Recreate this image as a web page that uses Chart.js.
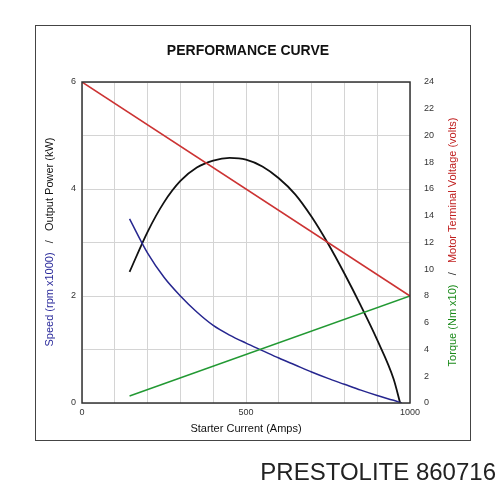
<!DOCTYPE html>
<html><head>
<script src="https://cdn.jsdelivr.net/npm/chart.js@4"></script>
<style>
body{margin:0;background:#fff;}
#wrap{position:relative;width:500px;height:500px;}
#brand{position:absolute;left:0;width:496px;text-align:right;top:458px;font:24px "Liberation Sans",Arial,sans-serif;color:#222;}
</style>
</head><body>
<div id="wrap"><canvas id="c" width="500" height="500"></canvas><div id="brand">PRESTOLITE 860716</div></div>
<script>
// amps vs values
const powerAmps = [145, 200, 250, 300, 350, 400, 450, 500, 550, 600, 650, 700, 750, 800, 850, 900, 950, 970];
const powerKw = [2.45, 3.2, 3.75, 4.15, 4.4, 4.53, 4.58, 4.55, 4.42, 4.2, 3.9, 3.48, 2.98, 2.42, 1.82, 1.18, 0.45, 0];
const speedAmps = [145, 200, 250, 300, 350, 400, 450, 500, 550, 600, 650, 700, 750, 800, 850, 900, 950, 975];
const speedRpm = [3.44, 2.8, 2.35, 2.0, 1.7, 1.45, 1.27, 1.12, 0.98, 0.84, 0.71, 0.58, 0.46, 0.35, 0.24, 0.14, 0.05, 0];
const torqueAmps = [145, 1000];
const torqueNm = [0.52, 8];
const voltAmps = [0, 1000];
const volts = [24, 8];

const pts = (xs, ys) => xs.map((x, i) => ({x: x, y: ys[i]}));
const FONT = '"Liberation Sans", Arial, sans-serif';

const decor = {
    id: 'decor',
    beforeDraw(chart) {
        const c = chart.ctx;
        c.save();
        c.strokeStyle = '#444';
        c.lineWidth = 1;
        c.strokeRect(35.5, 25.5, 435, 415);
        c.fillStyle = '#111';
        c.font = 'bold 14px ' + FONT;
        c.textAlign = 'center';
        c.fillText('PERFORMANCE CURVE', 248, 55);
        c.restore();
    },
    afterDraw(chart) {
        const c = chart.ctx, a = chart.chartArea;
        c.save();
        c.strokeStyle = '#333';
        c.lineWidth = 1.5;
        c.strokeRect(a.left, a.top, a.right - a.left, a.bottom - a.top);
        c.font = '11px ' + FONT;
        c.fillStyle = '#111';
        c.textAlign = 'center';
        c.fillText('Starter Current (Amps)', (a.left + a.right) / 2, 432);
        const multi = (x, y, parts) => {
            c.save();
            c.translate(x, y);
            c.rotate(-Math.PI / 2);
            let total = parts.reduce((s, p) => s + c.measureText(p[0]).width, 0);
            let pos = -total / 2;
            c.textAlign = 'left';
            parts.forEach(p => {
                c.fillStyle = p[1];
                c.fillText(p[0], pos, 0);
                pos += c.measureText(p[0]).width;
            });
            c.restore();
        };
        multi(53, 242, [['Speed (rpm x1000)', '#2b2b9b'], ['   /   ', '#111'], ['Output Power (kW)', '#111']]);
        multi(456, 242, [['Torque (Nm x10)', '#1a8a1a'], ['   /   ', '#111'], ['Motor Terminal Voltage (volts)', '#c02020']]);
        c.restore();
    }
};

new Chart(document.getElementById('c'), {
    type: 'line',
    data: {
        datasets: [
            {data: pts(voltAmps, volts), yAxisID: 'y2', borderColor: '#cc3333', borderWidth: 1.5, pointRadius: 0},
            {data: pts(torqueAmps, torqueNm), yAxisID: 'y2', borderColor: '#229933', borderWidth: 1.5, pointRadius: 0},
            {data: pts(speedAmps, speedRpm), yAxisID: 'y', borderColor: '#26268f', borderWidth: 1.5, pointRadius: 0, cubicInterpolationMode: 'monotone'},
            {data: pts(powerAmps, powerKw), yAxisID: 'y', borderColor: '#111', borderWidth: 1.8, pointRadius: 0, cubicInterpolationMode: 'monotone'}
        ]
    },
    options: {
        responsive: false,
        animation: false,
        layout: {padding: {top: 82, left: 0, right: 0, bottom: 0}},
        plugins: {legend: {display: false}, tooltip: {enabled: false}},
        scales: {
            x: {
                type: 'linear', min: 0, max: 1000,
                grid: {color: '#d4d4d4', drawTicks: false},
                border: {display: false},
                ticks: {stepSize: 100, padding: 4, color: '#333', font: {size: 9, family: FONT},
                    callback: v => (v % 500 === 0 ? v : '')},
                afterFit: s => { s.height = 97; }
            },
            y: {
                position: 'left', min: 0, max: 6,
                grid: {color: '#d4d4d4', drawTicks: false},
                border: {display: false},
                ticks: {stepSize: 1, padding: 6, color: '#333', font: {size: 9, family: FONT},
                    callback: v => (v % 2 === 0 ? v : '')},
                afterFit: s => { s.width = 82; }
            },
            y2: {
                position: 'right', min: 0, max: 24,
                grid: {display: false},
                border: {display: false},
                ticks: {stepSize: 2, padding: 6, color: '#333', font: {size: 9, family: FONT}},
                afterFit: s => { s.width = 90; }
            }
        }
    },
    plugins: [decor]
});
</script>
</body></html>
